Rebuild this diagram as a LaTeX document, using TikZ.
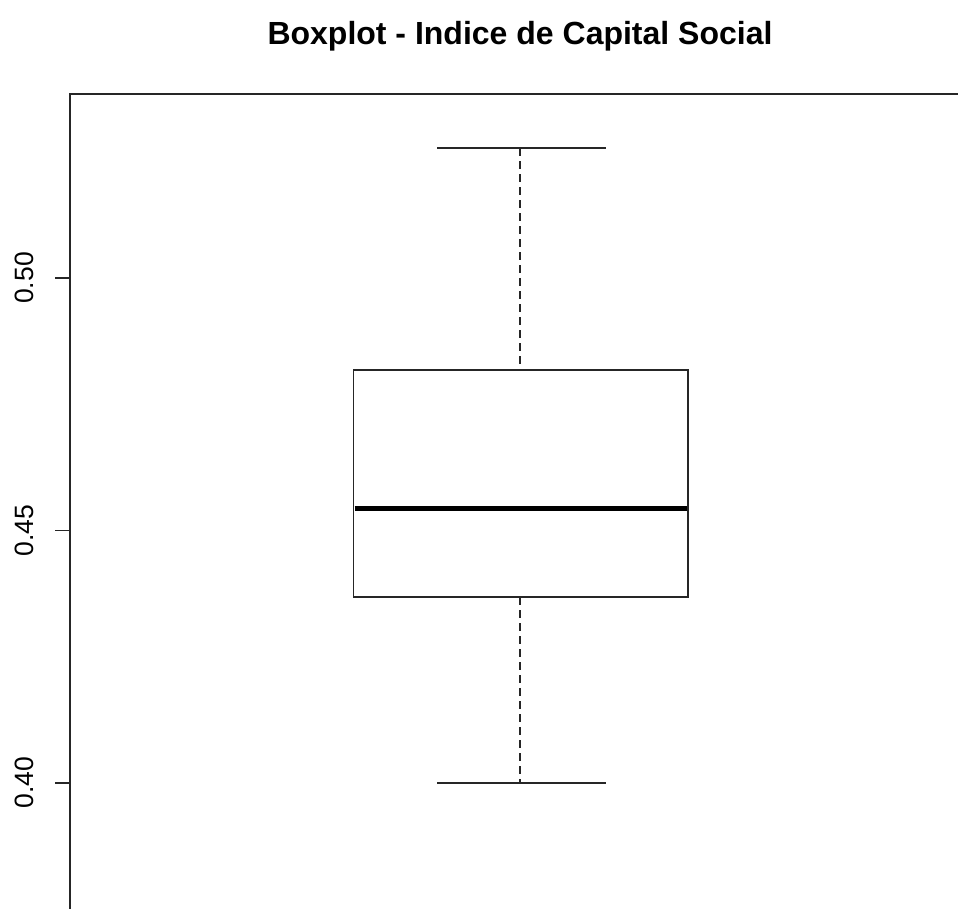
\documentclass[tikz,border=0pt]{standalone}
\usepackage{fontspec}
\setmainfont{Liberation Sans}
\begin{document}
\begin{tikzpicture}[x=1pt,y=-1pt,
  framepen/.style={line width=2pt,black!85},
  boxpen/.style={line width=1.7pt,black!85},
  medpen/.style={line width=4.8pt,black},
  whiskpen/.style={line width=1.6pt,black!85,dash pattern=on 8pt off 5pt},
  ticklab/.style={font=\fontsize{26.5}{26.5}\selectfont,rotate=90,anchor=base,inner sep=0pt},
  titlelab/.style={font=\fontsize{32}{32}\selectfont\bfseries,anchor=base,inner sep=0pt}]
  \useasboundingbox (0,0) rectangle (958,908);
  \clip (0,0) rectangle (958,908);
  \fill[white] (0,0) rectangle (958,908);
  % value-to-pixel mapping: 0.50 -> 278, 0.40 -> 782.7
  \def\yv#1{278+(0.50-#1)*5047}
  % plot frame (right and bottom sides fall outside the page)
  \draw[framepen] (70,1000) -- (70,94) -- (1000,94);
  % y axis ticks and labels
  \foreach \v/\t in {0.50/0.50,0.45/0.45,0.40/0.40}{
    \draw[boxpen] (55,{\yv{\v}}) -- (70,{\yv{\v}});
    \node[ticklab] (lab\t) at (33,{\yv{\v}}) {\t};
  }
  % whiskers
  \coordinate (wtop) at (520,148);
  \coordinate (wbot) at (520,782.7);
  \coordinate (qtop) at (520,370);
  \coordinate (qbot) at (520,597.3);
  \draw[whiskpen] (wtop) -- (qtop);
  \draw[whiskpen] (qbot) -- (wbot);
  \draw[boxpen] (437,148) -- (605.7,148);
  \draw[boxpen] (437,782.7) -- (605.7,782.7);
  % box and median
  \draw[boxpen] (353.5,370) rectangle (687.7,597.3);
  \draw[medpen] (354.5,508.3) -- (686.7,508.3);
  % title
  \node[titlelab] (title) at (520,44) {Boxplot - Indice de Capital Social};
\end{tikzpicture}
\end{document}
